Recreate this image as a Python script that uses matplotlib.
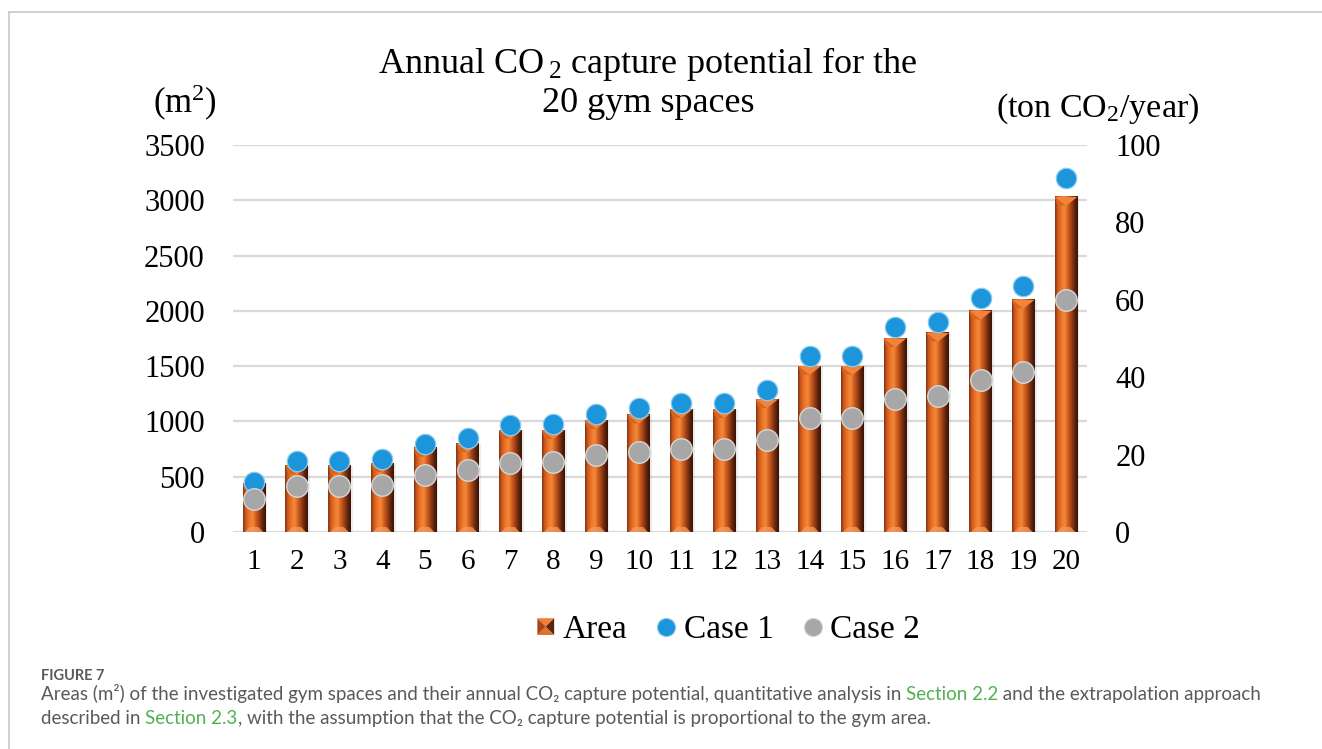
import numpy as np
import matplotlib
matplotlib.use("Agg")
import matplotlib.pyplot as plt
from matplotlib.colors import LinearSegmentedColormap
from matplotlib.patches import Polygon
from matplotlib.legend_handler import HandlerBase
from matplotlib.lines import Line2D

# ---- data -------------------------------------------------------------
gyms = list(range(1, 21))
area = [440, 600, 600, 620, 760, 800, 920, 920, 1010, 1060,
        1110, 1110, 1200, 1500, 1500, 1750, 1800, 2000, 2100, 3030]
case1 = [12.9, 18.3, 18.3, 18.9, 22.7, 24.3, 27.6, 27.9, 30.5, 32.0,
         33.3, 33.3, 36.7, 45.5, 45.5, 53.0, 54.3, 60.5, 63.6, 91.5]
case2 = [8.5, 11.9, 11.9, 12.1, 14.7, 16.0, 17.8, 18.1, 19.9, 20.7,
         21.4, 21.4, 23.8, 29.5, 29.5, 34.4, 35.1, 39.3, 41.3, 60.0]
area_ticks = [0, 500, 1000, 1500, 2000, 2500, 3000, 3500]
co2_ticks = [0, 20, 40, 60, 80, 100]

# ---- style ------------------------------------------------------------
plt.rcParams["font.family"] = ["Liberation Serif", "DejaVu Serif"]
plt.rcParams["mathtext.fontset"] = "custom"
plt.rcParams["mathtext.rm"] = "Liberation Serif"
plt.rcParams["mathtext.it"] = "Liberation Serif:italic"

W, H = 1322, 749
fig = plt.figure(figsize=(W / 100, H / 100), dpi=100)
fig.patch.set_facecolor("white")

# card frame (top and left edges)
frame_c = "#c8c8c8"
fig.add_artist(Line2D([9 / W, 1.0], [1 - 12 / H, 1 - 12 / H], transform=fig.transFigure,
                      color=frame_c, lw=1.2))
fig.add_artist(Line2D([9 / W, 9 / W], [0, 1 - 12 / H], transform=fig.transFigure,
                      color=frame_c, lw=1.2))

left_px, right_px, top_px, bot_px = 232.6, 1087.4, 145, 532
ax = fig.add_axes([left_px / W, 1 - bot_px / H, (right_px - left_px) / W, (bot_px - top_px) / H])

copper = LinearSegmentedColormap.from_list("copper_bar", [
    (0.00, "#7a3212"), (0.10, "#c9561c"), (0.28, "#f07628"), (0.42, "#f28a3e"),
    (0.55, "#d9621f"), (0.72, "#9a3f16"), (0.88, "#5a220c"), (1.00, "#3a1406")])
grad = np.linspace(0, 1, 64).reshape(1, -1)

bw = 0.53
cap_h = 80       # depth of the bevelled top, in m²
foot_h = 45
for x, a in zip(gyms, area):
    # soft drop shadow
    ax.bar(x + 0.05, a, width=bw, color="#9a9a9a", alpha=0.18, zorder=1, linewidth=0)
    ax.imshow(grad, extent=(x - bw / 2, x + bw / 2, 0, a), aspect="auto", cmap=copper,
              interpolation="bicubic", zorder=2)
    ax.add_patch(Polygon([(x - bw / 2, a), (x + bw / 2, a), (x, a - cap_h)], closed=True,
                         facecolor="#f3823a", edgecolor="none", zorder=3))
    ax.add_patch(Polygon([(x - bw / 2, a), (x - bw / 2 + 0.06, a - cap_h * 0.9), (x, a - cap_h)],
                         closed=True, facecolor="#d8631f", edgecolor="none", zorder=3))
    ax.add_patch(Polygon([(x - bw / 2 + 0.05, 0), (x + bw / 2 - 0.05, 0),
                          (x + bw / 2 - 0.16, foot_h), (x - bw / 2 + 0.16, foot_h)], closed=True,
                         facecolor="#f09a5e", edgecolor="none", alpha=0.8, zorder=3))

ax.set_xlim(0.5, 20.5)
ax.set_ylim(0, 3500)
ax.set_yticks(area_ticks)
ax.set_xticks(gyms)
ax.grid(axis="y", color="#d9d9d9", lw=1.6, zorder=0)
ax.set_axisbelow(True)
for s in ax.spines.values():
    s.set_visible(False)
ax.tick_params(axis="y", length=0, pad=20, labelsize=22)
ax.tick_params(axis="x", length=0, pad=12, labelsize=21)

ax2 = ax.twinx()
ax2.set_ylim(0, 100)
ax2.set_yticks(co2_ticks)
for s in ax2.spines.values():
    s.set_visible(False)
ax2.tick_params(axis="y", length=0, pad=20, labelsize=22)

blue = "#1c95db"
grey = "#a7a7a7"
ax2.scatter(gyms, case1, s=215, color=blue, edgecolors="#8ccaee", linewidths=0.9, zorder=4)
ax2.scatter(gyms, case2, s=240, color=grey, edgecolors="#d6d6d6", linewidths=1.0, zorder=4)

# titles and axis units
fig.text(648 / W, 1 - 73 / H, r"Annual CO$\,_{2}$ capture potential for the", ha="center",
         va="baseline", fontsize=26)
fig.text(648 / W, 1 - 112 / H, "20 gym spaces", ha="center", va="baseline", fontsize=26)
fig.text(185 / W, 1 - 113 / H, r"(m$^{2}$)", ha="center", va="baseline", fontsize=25)
fig.text(1098 / W, 1 - 117 / H, r"(ton CO$_{2}$/year)", ha="center", va="baseline", fontsize=24.5)


# legend
class BowtieHandler(HandlerBase):
    def create_artists(self, legend, orig_handle, xdescent, ydescent, width, height,
                       fontsize, trans):
        s = height * 0.72
        cx = -xdescent + width - s / 2
        cy = -ydescent + height / 2
        x0, x1, y0, y1 = cx - s / 2, cx + s / 2, cy - s / 2, cy + s / 2
        c = (cx, cy)
        pieces = [([(x0, y1), (x1, y1), c], "#f08036"),
                  ([(x0, y0), (x1, y0), c], "#e0702e"),
                  ([(x0, y0), (x0, y1), c], "#a8461a"),
                  ([(x1, y0), (x1, y1), c], "#5e240c")]
        return [Polygon(pts, closed=True, facecolor=col, edgecolor="none", transform=trans)
                for pts, col in pieces]


area_handle = object()
h1 = Line2D([], [], ls="none", marker="o", markersize=13, markerfacecolor=blue,
            markeredgecolor="#8ccaee", markeredgewidth=0.8)
h2 = Line2D([], [], ls="none", marker="o", markersize=13, markerfacecolor=grey,
            markeredgecolor="#d6d6d6", markeredgewidth=0.8)
fig.legend([area_handle, h1, h2], ["Area", "Case 1", "Case 2"], ncol=3, loc="center",
           bbox_to_anchor=(728 / W, 1 - 630 / H), frameon=False, fontsize=24,
           handler_map={area_handle: BowtieHandler()}, handlelength=0.55,
           handletextpad=0.25, columnspacing=0.9)

# caption
cap_grey = "#5a5a5a"
green = "#52b152"
cap_font = ["Lato", "DejaVu Sans"]
renderer = fig.canvas.get_renderer()

line1 = [("Areas (m\u00b2) of the investigated gym spaces and their annual CO\u2082"
          " capture potential, quantitative analysis in ", cap_grey),
         ("Section 2.2", green),
         (" and the extrapolation approach", cap_grey)]
line2 = [("described in ", cap_grey),
         ("Section 2.3", green),
         (", with the assumption that the CO\u2082 capture potential is proportional"
          " to the gym area.", cap_grey)]


def text_width(s, size):
    t = fig.text(0, 0, s + "|", fontsize=size, family=cap_font)
    w = t.get_window_extent(renderer).width
    t.remove()
    t = fig.text(0, 0, "|", fontsize=size, family=cap_font)
    w -= t.get_window_extent(renderer).width
    t.remove()
    return w


base = 12.0
full1 = "".join(p for p, _ in line1)
cap_size = base * (1258 - 41) / text_width(full1, base)


def draw_line(pieces, x_px, y_px, size):
    prefix = ""
    for s, col in pieces:
        off = text_width(prefix, size) if prefix else 0.0
        fig.text((x_px + off) / W, 1 - y_px / H, s, fontsize=size, family=cap_font,
                 color=col, va="baseline", ha="left")
        prefix += s


fig.text(41 / W, 1 - 680 / H, "FIGURE 7", fontsize=cap_size * 0.78, family=cap_font,
         color=cap_grey, va="baseline", ha="left", weight="bold")
draw_line(line1, 41, 700, cap_size)
draw_line(line2, 41, 724, cap_size)

fig.savefig("out.png", dpi=100, facecolor="white")
